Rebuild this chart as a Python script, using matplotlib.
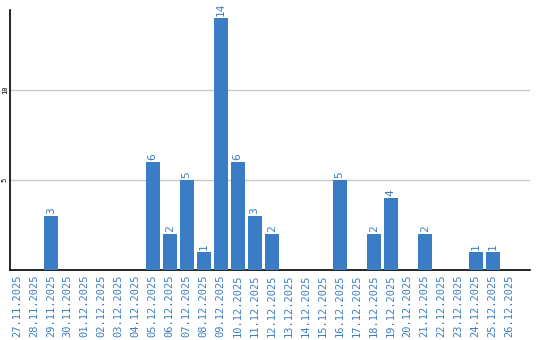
import matplotlib.pyplot as plt

dates = ['27.11.2025', '28.11.2025', '29.11.2025', '30.11.2025', '01.12.2025',
         '02.12.2025', '03.12.2025', '04.12.2025', '05.12.2025', '06.12.2025',
         '07.12.2025', '08.12.2025', '09.12.2025', '10.12.2025', '11.12.2025',
         '12.12.2025', '13.12.2025', '14.12.2025', '15.12.2025', '16.12.2025',
         '17.12.2025', '18.12.2025', '19.12.2025', '20.12.2025', '21.12.2025',
         '22.12.2025', '23.12.2025', '24.12.2025', '25.12.2025', '26.12.2025']
counts = [0, 0, 3, 0, 0, 0, 0, 0, 6, 2, 5, 1, 14, 6, 3, 2, 0, 0, 0, 5,
          0, 2, 4, 0, 2, 0, 0, 1, 1, 0]

blue = '#3b7dc4'
fig = plt.figure(figsize=(5.4, 3.4), dpi=100)
ax = fig.add_axes([10 / 540, 70 / 340, 520 / 540, 260 / 340])

x = range(len(dates))
ax.bar(x, counts, width=0.82, color=blue, zorder=3)
for i, v in enumerate(counts):
    if v > 0:
        ax.text(i, v + 0.1, str(v), rotation=90, ha='center', va='bottom',
                color=blue, fontsize=8, family='DejaVu Sans Mono')

ax.set_xlim(-0.4, 30.2)
ax.set_ylim(0, 14.45)
ax.set_xticks(list(x))
ax.set_xticklabels(dates, rotation=90, color=blue, fontsize=7.5,
                   family='DejaVu Sans Mono')
ax.set_yticks([5, 10])
ax.set_yticklabels(['5', '10'], rotation=90, fontsize=5, va='center',
                   family='DejaVu Sans Mono')
ax.tick_params(axis='x', length=0, pad=3)
ax.tick_params(axis='y', length=0, pad=1.5)
ax.grid(axis='y', color='#c8c8c8', linewidth=1, zorder=0)
ax.spines['top'].set_visible(False)
ax.spines['right'].set_visible(False)
ax.spines['left'].set_linewidth(1.2)
ax.spines['bottom'].set_linewidth(1.2)

fig.savefig('out.png', dpi=100)
